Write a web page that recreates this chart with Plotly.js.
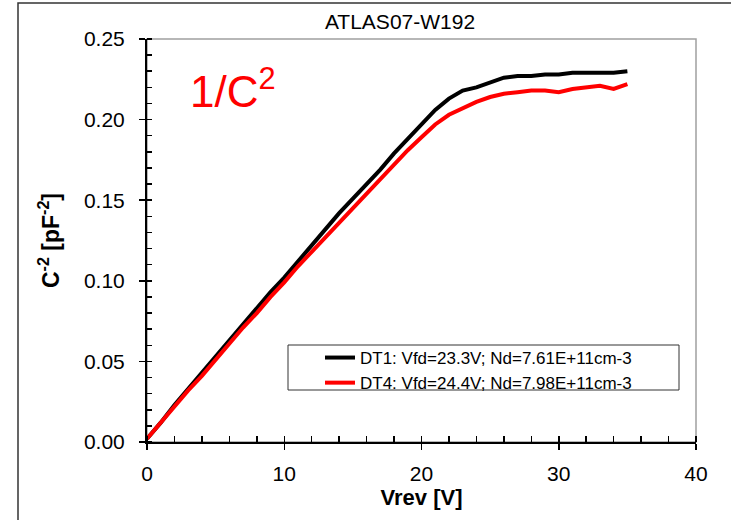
<!DOCTYPE html>
<html>
<head>
<meta charset="utf-8">
<script src="https://cdn.plot.ly/plotly-3.0.1.min.js"></script>
<style>html,body{margin:0;padding:0;background:#fff;}#chart{width:731px;height:520px;}</style>
</head>
<body>
<div id="chart"></div>
<script>
// Reverse bias voltage [V]
const vrev = [0,1,2,3,4,5,6,7,8,9,10,11,12,13,14,15,16,17,18,19,20,21,22,23,24,25,26,27,28,29,30,31,32,33,34,35];
// DT1 1/C^2 [pF^-2]
const dt1 = [0.002,0.012,0.023,0.033,0.043,0.053,0.063,0.073,0.083,0.093,0.102,0.112,0.122,0.132,0.142,0.151,0.160,0.169,0.179,0.188,0.197,0.206,0.213,0.218,0.220,0.223,0.226,0.227,0.227,0.228,0.228,0.229,0.229,0.229,0.229,0.230];
// DT4 1/C^2 [pF^-2]
const dt4 = [0.002,0.012,0.022,0.032,0.041,0.051,0.061,0.071,0.080,0.090,0.099,0.109,0.118,0.127,0.136,0.145,0.154,0.163,0.172,0.181,0.189,0.197,0.203,0.207,0.211,0.214,0.216,0.217,0.218,0.218,0.217,0.219,0.220,0.221,0.219,0.222];
const seriesNames = ["DT1: Vfd=23.3V; Nd=7.61E+11cm-3", "DT4: Vfd=24.4V; Nd=7.98E+11cm-3"];
const titleText = "ATLAS07-W192";
const xTitle = "Vrev [V]";
const yTitle = "C<sup>-2</sup> [pF<sup>-2</sup>]";
const labelText = "1/C<sup>2</sup>";

const FONT = "Liberation Sans, Arial, sans-serif";

const traces = [
  {x: vrev, y: dt1, name: seriesNames[0], type: "scatter", mode: "lines",
   line: {color: "#000000", width: 4}},
  {x: vrev, y: dt4, name: seriesNames[1], type: "scatter", mode: "lines",
   line: {color: "#ff0000", width: 4}}
];

const layout = {
  width: 731, height: 520,
  margin: {l: 147, r: 35, t: 39, b: 78},
  paper_bgcolor: "#ffffff", plot_bgcolor: "#ffffff",
  font: {family: FONT, color: "#000", size: 21},
  showlegend: true,
  title: {text: titleText, font: {family: FONT, size: 21, color: "#000"},
          x: 400/731, xref: "container", xanchor: "center",
          y: 1 - 22/520, yref: "container", yanchor: "middle"},
  xaxis: {range: [0, 40], dtick: 10, tick0: 0, showgrid: false, zeroline: false,
          showline: true, linecolor: "#000", linewidth: 2,
          ticks: "outside", ticklen: 6, tickwidth: 1.5, tickcolor: "#000",
          ticklabelstandoff: 6,
          minor: {dtick: 2, tick0: 0, ticks: "inside", ticklen: 6, tickwidth: 1.5, tickcolor: "#000"},
          tickfont: {family: FONT, size: 21, color: "#000"},
          title: {text: "<b>" + xTitle + "</b>", font: {family: FONT, size: 22, color: "#000"}, standoff: 0},
          automargin: false},
  yaxis: {range: [0, 0.25], dtick: 0.05, tick0: 0, tickformat: ".2f", showgrid: false, zeroline: false,
          showline: true, linecolor: "#000", linewidth: 2,
          ticks: "outside", ticklen: 6, tickwidth: 1.5, tickcolor: "#000",
          ticklabelstandoff: 10,
          minor: {dtick: 0.01, tick0: 0, ticks: "inside", ticklen: 5, tickwidth: 1.5, tickcolor: "#000"},
          tickfont: {family: FONT, size: 21, color: "#000"},
          title: {text: "<b>" + yTitle + "</b>", font: {family: FONT, size: 23, color: "#000"}, standoff: 18},
          automargin: false},
  legend: {x: (320-147)/549, y: (442-340)/403, xanchor: "left", yanchor: "top",
           bgcolor: "rgba(0,0,0,0)", borderwidth: 0,
           font: {family: FONT, size: 17, color: "#000"}, tracegroupgap: 0},
  shapes: [
    {type: "rect", xref: "paper", yref: "paper", x0: 0, x1: 1, y0: 0, y1: 1,
     line: {color: "#a0a0a0", width: 1.5}, fillcolor: "rgba(0,0,0,0)", layer: "below"},
    {type: "rect", xref: "paper", yref: "paper", x0: (18-147)/549, x1: 1.3, y0: -0.5, y1: (442-3)/403,
     line: {color: "#333", width: 1.5}, fillcolor: "rgba(0,0,0,0)", layer: "below"},
    // legend frame
    {type: "rect", xref: "paper", yref: "paper", x0: (288-147)/549, x1: (679-147)/549,
     y0: (442-390)/403, y1: (442-345)/403,
     line: {color: "#333", width: 1}, fillcolor: "#ffffff", layer: "above"}
  ],
  annotations: [
    {text: labelText, xref: "paper", yref: "paper", x: (188-147)/549, y: (442-88)/403,
     xanchor: "left", yanchor: "middle", showarrow: false,
     font: {family: FONT, size: 44, color: "#ff0000"}}
  ]
};

Plotly.newPlot("chart", traces, layout, {displayModeBar: false, staticPlot: true});
</script>
</body>
</html>
